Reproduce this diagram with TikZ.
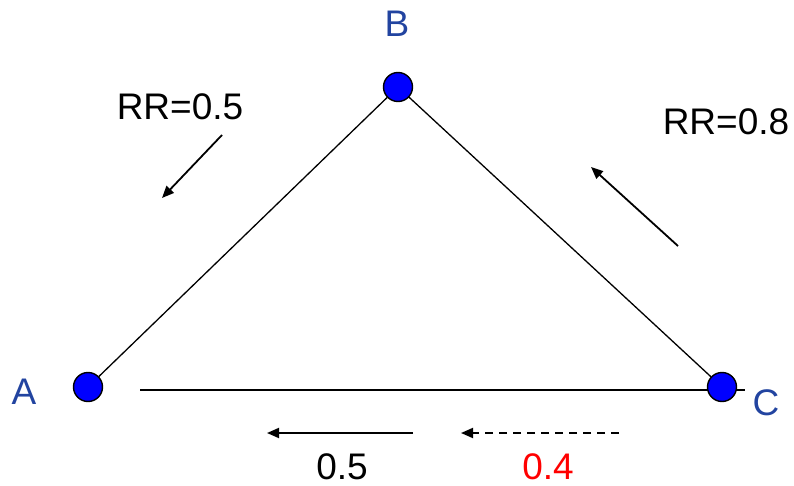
\documentclass[tikz,border=0pt]{standalone}
\usepackage{fontspec}
\setmainfont{Liberation Sans}
\usetikzlibrary{positioning, calc, arrows.meta}

\definecolor{labelblue}{RGB}{34,68,160}

\begin{document}
\begin{tikzpicture}[
    x=1pt, y=-1pt,
    vertex/.style={
        circle,
        draw=black,
        fill=blue,
        line width=1.4pt,
        minimum size=29pt,
        inner sep=0pt
    },
    vlabel/.style={
        text=labelblue,
        font=\fontsize{37}{40}\selectfont
    },
    rate/.style={
        font=\fontsize{37}{40}\selectfont
    },
    edge/.style={
        line width=1.3pt
    },
    arrow/.style={
        -{Triangle[length=12pt, width=10pt]},
        line width=1.8pt
    },
    font=\fontsize{37}{40}\selectfont
]

% frame
\useasboundingbox (0,0) rectangle (794,486);

% base line (under the vertices)
\coordinate (baseL) at (140,390);
\coordinate (baseR) at (745,390);
\draw[edge] (baseL) -- (baseR);

% the three vertices
\node[vertex] (A) at (88,387) {};
\node[vertex] (B) at (398,87) {};
\node[vertex] (C) at (722,387) {};

\node[vlabel] (labA) at (24,392) {A};
\node[vlabel] (labB) at (397,24) {B};
\node[vlabel] (labC) at (766,403) {C};

% triangle sides
\draw[edge] (A) -- (B);
\draw[edge] (B) -- (C);

% rates
\node[rate] (rrab) at (180,107) {RR=0.5};
\node[rate] (rrbc) at (726,122) {RR=0.8};
\node[rate] (rca) at (342,467) {0.5};
\node[rate, text=red] (rcaplus) at (548,467) {0.4};

% flow arrows
\coordinate (abS) at (222,135);
\coordinate (abE) at (162,198);
\coordinate (bcS) at (678,246);
\coordinate (bcE) at (591,167);
\coordinate (caS) at (413,433);
\coordinate (caE) at (267,433);
\coordinate (cdS) at (619,433);
\coordinate (cdE) at (461,433);
\draw[arrow] (abS) -- (abE);
\draw[arrow] (bcS) -- (bcE);
\draw[arrow] (caS) -- (caE);
\draw[arrow, dash pattern=on 8pt off 6pt] (cdS) -- (cdE);

\end{tikzpicture}
\end{document}
